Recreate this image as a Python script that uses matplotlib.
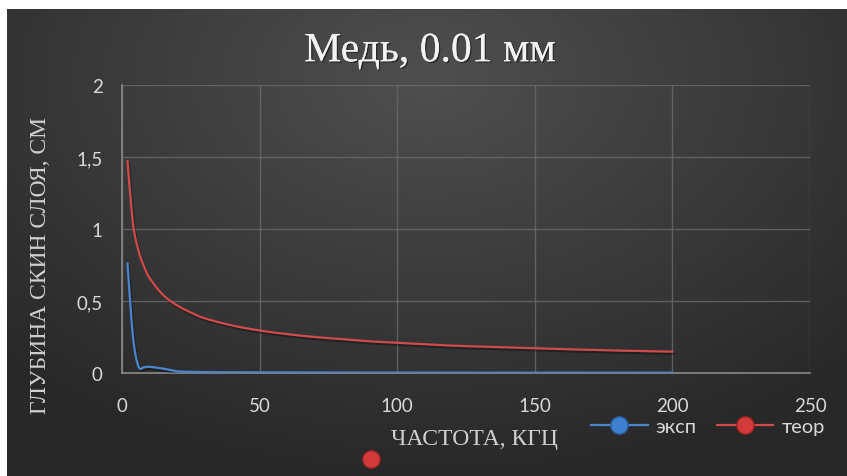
import numpy as np
import matplotlib
matplotlib.use("Agg")
import matplotlib.pyplot as plt
import matplotlib.patheffects as pe
from matplotlib.lines import Line2D

# частота, кГц
freq = [2, 4, 6, 8, 10, 15, 20, 25, 30, 40, 50, 60, 70, 80, 90, 100,
        120, 140, 160, 180, 200]
# экспериментальная глубина скин-слоя, см
exp_depth = [0.76, 0.25, 0.045, 0.04, 0.043, 0.03, 0.012, 0.008, 0.006, 0.005,
             0.004, 0.004, 0.003, 0.003, 0.003, 0.003, 0.002, 0.002, 0.002,
             0.002, 0.002]
# теоретическая глубина скин-слоя, см
teor_depth = [1.47, 1.04, 0.85, 0.74, 0.66, 0.54, 0.47, 0.42, 0.38, 0.33,
              0.295, 0.27, 0.25, 0.235, 0.22, 0.21, 0.19, 0.178, 0.166,
              0.156, 0.148]

W, H = 847, 477
fig = plt.figure(figsize=(W / 100, H / 100), dpi=100)
fig.patch.set_facecolor("white")

# фон с радиальным градиентом
bg = fig.add_axes([7 / W, 0, 1 - 7 / W, 1 - 10 / H])
bg.axis("off")
yy, xx = np.mgrid[0:1:300j, 0:1:500j]
r = np.sqrt(((xx - 0.5) / 0.75) ** 2 + ((yy - 0.15) / 0.9) ** 2)
shade = np.clip(0.31 - 0.16 * r, 0.16, 0.31)
bg.imshow(np.dstack([shade] * 3), aspect="auto", extent=[0, 1, 1, 0])
bg.set_xlim(0, 1)
bg.set_ylim(1, 0)

ax = fig.add_axes([122 / W, 1 - 374 / H, (810 - 122) / W, (374 - 86) / H])
ax.set_facecolor("none")


def smooth(x, y):
    # сглаживание кривой как в Excel (Catmull-Rom)
    x = np.asarray(x, float)
    y = np.asarray(y, float)
    px, py = [], []
    t = np.linspace(0, 1, 30)
    h00 = 2 * t ** 3 - 3 * t ** 2 + 1
    h10 = t ** 3 - 2 * t ** 2 + t
    h01 = -2 * t ** 3 + 3 * t ** 2
    h11 = t ** 3 - t ** 2
    for i in range(len(x) - 1):
        j0 = max(i - 1, 0)
        j3 = min(i + 2, len(x) - 1)
        for a, out in ((x, px), (y, py)):
            m1 = (a[i + 1] - a[j0]) / 2
            m2 = (a[j3] - a[i]) / 2
            out.extend(h00 * a[i] + h10 * m1 + h01 * a[i + 1] + h11 * m2)
    return px, py


blue = "#4a86cf"
red = "#d24a4a"
shadow = [pe.SimpleLineShadow(offset=(1, -1.5), shadow_color="black", alpha=0.35),
          pe.Normal()]
ax.plot(*smooth(freq, teor_depth), color=red, lw=1.6, path_effects=shadow, zorder=3)
ax.plot(*smooth(freq, exp_depth), color=blue, lw=1.6, path_effects=shadow, zorder=4)

ax.set_xlim(0, 250)
ax.set_ylim(0, 2)
ax.set_xticks(range(0, 251, 50))
ax.set_yticks([0, 0.5, 1, 1.5, 2])
ax.set_yticklabels(["0", "0,5", "1", "1,5", "2"])
ax.grid(True, color="#6a6a6a", lw=1, alpha=0.8)
ax.set_axisbelow(True)
for side in ("top", "right"):
    ax.spines[side].set_visible(False)
for side in ("left", "bottom"):
    ax.spines[side].set_color("#8a8a8a")
    ax.spines[side].set_linewidth(1.2)
ax.tick_params(length=0, colors="#d9d9d9", labelsize=13.5)
ax.tick_params(axis="x", pad=17)
ax.tick_params(axis="y", pad=14)
for lab in ax.get_xticklabels() + ax.get_yticklabels():
    lab.set_family("Lato")

txt_shadow = [pe.withSimplePatchShadow(offset=(1, -1), shadow_rgbFace="black", alpha=0.45),
              pe.Normal()]
fig.text(430 / W, 1 - 52 / H, "Медь, 0.01 мм", ha="center", va="center",
         family="Liberation Serif", fontsize=30, color="#f2f2f2", path_effects=txt_shadow)
fig.text(474 / W, 1 - 440 / H, "ЧАСТОТА, КГЦ", ha="center", va="center",
         family="Liberation Serif", fontsize=17, color="#d0d0d0")
fig.text(41 / W, 1 - 266 / H, "ГЛУБИНА СКИН СЛОЯ, СМ", ha="center", va="center",
         rotation=90, family="Liberation Serif", fontsize=17, color="#d0d0d0")

handles = [
    Line2D([], [], color=blue, lw=1.6, marker="o", markersize=12.5,
           markerfacecolor="#3f7fd0", markeredgecolor="#2a5a9a"),
    Line2D([], [], color=red, lw=1.6, marker="o", markersize=12.5,
           markerfacecolor="#d33a3a", markeredgecolor="#9a2525"),
]
leg = fig.legend(handles, ["эксп", "теор"], loc="center",
                 bbox_to_anchor=(708 / W, 1 - 427 / H), ncol=2, frameon=False,
                 handlelength=2.8, columnspacing=1.0, handletextpad=0.4,
                 prop={"family": "Lato", "size": 14.5})
for t in leg.get_texts():
    t.set_color("#d9d9d9")

# одиночный маркер под подписью оси
fig.add_artist(Line2D([371 / W], [1 - 460 / H], marker="o", markersize=12.5,
                      markerfacecolor="#d33a3a", markeredgecolor="#9a2525",
                      transform=fig.transFigure))

fig.savefig("out.png", dpi=100)
